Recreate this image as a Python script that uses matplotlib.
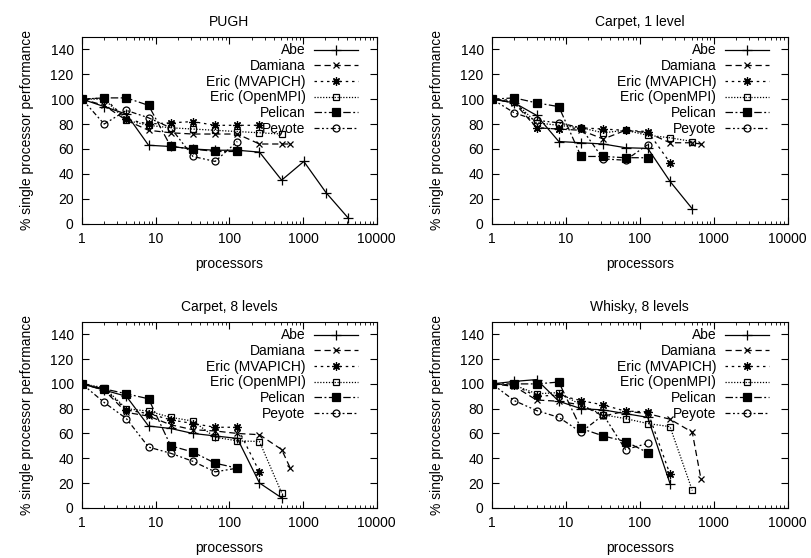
import matplotlib
matplotlib.use("Agg")
import matplotlib.pyplot as plt

plt.rcParams['font.family'] = ['Liberation Sans', 'DejaVu Sans']
plt.rcParams['font.size'] = 10

# Processor counts
procs = [1, 2, 4, 8, 16, 32, 64, 128, 256, 512, 1024, 2048, 4096]
damiana_procs = [1, 2, 4, 8, 16, 32, 64, 128, 256, 512, 670]

machines = ["Abe", "Damiana", "Eric (MVAPICH)", "Eric (OpenMPI)", "Pelican", "Peyote"]

# PUGH
pugh_abe = [100, 94, 88, 63, 62, 60, 59, 59, 57.5, 35, 50, 25, 4.6]
pugh_damiana = [100, 95, 83, 75, 73, 72, 72, 72, 64, 64, 64]
pugh_mvapich = [100, 101, 84, 80, 81, 82, 79, 79, 79]
pugh_openmpi = [100, 100, 83, 79, 77, 76, 75, 74, 73, 72]
pugh_pelican = [100, 101, 101, 95, 62, 60, 58, 58]
pugh_peyote = [100, 80, 91, 85, 77, 54, 50, 66]

# Carpet, 1 level
c1_abe = [100, 97, 87, 66, 65, 64, 61, 60.5, 34, 12]
c1_damiana = [100, 97, 77, 76, 75, 68, 75, 73, 65, 65, 64]
c1_mvapich = [100, 99, 77, 76, 77, 76, 75, 74, 49]
c1_openmpi = [100, 98, 81, 79, 77, 73, 75, 71, 69, 66]
c1_pelican = [100, 101, 97, 94, 54, 54, 53, 53]
c1_peyote = [100, 89, 83, 81, 77, 52, 51, 63.5]

# Carpet, 8 levels
c8_abe = [100, 95, 90, 66, 64, 60, 58, 56, 20, 8]
c8_damiana = [100, 95, 77, 74, 67, 63, 62, 60, 59, 47, 32]
c8_mvapich = [100, 96, 79, 76, 71, 68, 65, 65, 29]
c8_openmpi = [100, 97, 80, 78, 73, 70, 57, 54, 53.5, 12]
c8_pelican = [100, 96, 92, 88, 50, 45, 36, 32]
c8_peyote = [100, 85, 72, 49, 44, 37.5, 29, 32]

# Whisky, 8 levels
w_abe = [100, 102, 103.5, 86, 80, 79, 76, 73, 19.5]
w_damiana = [100, 98, 87, 86, 83, 74, 78, 76, 71.5, 61, 23.5]
w_mvapich = [100, 99, 90, 91, 86.5, 83, 78, 77.5, 27]
w_openmpi = [100, 99, 92, 93, 83, 75, 72, 68, 65.5, 14]
w_pelican = [100, 100, 100, 101.5, 64, 58, 53.5, 44.5]
w_peyote = [100, 86.5, 78.5, 73, 61, 75, 47, 52]

styles = [
    dict(ls='-', marker='+', ms=6.5, mfc='none'),
    dict(ls=(0, (5, 3)), marker='x', ms=5, mfc='none'),
    dict(ls=(0, (2, 3)), marker=(8, 2, 0), ms=6, mfc='none'),
    dict(ls=(0, (1, 1.3)), marker='s', ms=5, mfc='none'),
    dict(ls=(0, (6, 2, 1.5, 2)), marker='s', ms=5.5, mfc='black'),
    dict(ls=(0, (4, 2, 1.5, 2, 1.5, 2)), marker='o', ms=5, mfc='none'),
]


def draw_panel(ax, title, series):
    for name, ys, st in zip(machines, series, styles):
        xs = damiana_procs if name == "Damiana" else procs
        ax.plot(xs[:len(ys)], ys, color='black', lw=0.9, mec='black',
                mew=0.9, label=name, **st)
    ax.set_xscale('log')
    ax.set_xlim(1, 10000)
    ax.set_ylim(0, 150)
    ax.set_yticks(range(0, 141, 20))
    ax.set_xticks([1, 10, 100, 1000, 10000])
    ax.set_xticklabels(['1', '10', '100', '1000', '10000'])
    ax.tick_params(which='both', direction='in', top=True, right=True)
    ax.tick_params(which='major', length=5, pad=6)
    ax.tick_params(which='minor', length=2.5)
    ax.set_title(title, pad=8, fontsize=10)
    ax.set_xlabel("processors", labelpad=8)
    ax.set_ylabel("% single processor performance", labelpad=12)
    ax.legend(loc='upper right', bbox_to_anchor=(0.937, 0.965), frameon=False,
              markerfirst=False, handlelength=3.2, handletextpad=0.6,
              labelspacing=0.12, borderpad=0, borderaxespad=0, fontsize=10)


fig = plt.figure(figsize=(8.12, 5.58), dpi=100)
ax1 = fig.add_axes([0.101, 0.599, 0.363, 0.335])
ax2 = fig.add_axes([0.606, 0.599, 0.364, 0.335])
ax3 = fig.add_axes([0.101, 0.090, 0.363, 0.333])
ax4 = fig.add_axes([0.606, 0.090, 0.364, 0.333])

draw_panel(ax1, "PUGH", [pugh_abe, pugh_damiana, pugh_mvapich, pugh_openmpi, pugh_pelican, pugh_peyote])
draw_panel(ax2, "Carpet, 1 level", [c1_abe, c1_damiana, c1_mvapich, c1_openmpi, c1_pelican, c1_peyote])
draw_panel(ax3, "Carpet, 8 levels", [c8_abe, c8_damiana, c8_mvapich, c8_openmpi, c8_pelican, c8_peyote])
draw_panel(ax4, "Whisky, 8 levels", [w_abe, w_damiana, w_mvapich, w_openmpi, w_pelican, w_peyote])

fig.savefig("out.png", dpi=100)
